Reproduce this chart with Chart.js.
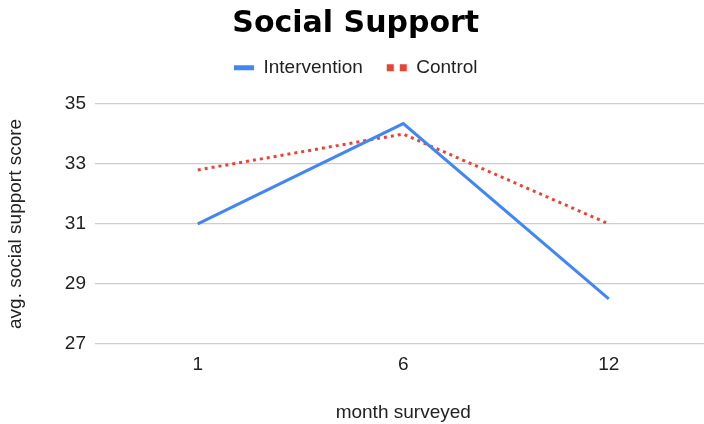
<!DOCTYPE html>
<html>
<head>
<meta charset="utf-8">
<script src="https://cdn.jsdelivr.net/npm/chart.js@4.4.1/dist/chart.umd.min.js"></script>
<style>
  html, body { margin: 0; padding: 0; overflow: hidden; background: #fff; }
  #wrap { width: 714px; height: 424px; }
</style>
</head>
<body>
<div id="wrap"><canvas id="c" width="714" height="424"></canvas></div>
<script>
const categories = ['1', '6', '12'];
const interventionValues = [31.0, 34.35, 28.5];
const controlValues = [32.8, 34.0, 31.0];
const yTicks = [27, 29, 31, 33, 35];
const chartTitle = 'Social Support';
const xTitle = 'month surveyed';
const yTitle = 'avg. social support score';

const BLUE = '#4285F4';
const RED = '#EA4335';
const FONT = '"Liberation Sans", Arial, sans-serif';

new Chart(document.getElementById('c'), {
  type: 'line',
  data: {
    labels: categories,
    datasets: [
      {
        label: 'Intervention',
        data: interventionValues,
        borderColor: BLUE,
        backgroundColor: BLUE,
        borderWidth: 3,
        pointRadius: 0,
        tension: 0,
        fill: false
      },
      {
        label: 'Control',
        data: controlValues,
        borderColor: RED,
        backgroundColor: RED,
        borderWidth: 3,
        borderDash: [3, 4],
        borderCapStyle: 'butt',
        pointRadius: 0,
        tension: 0,
        fill: false
      }
    ]
  },
  options: {
    responsive: false,
    animation: false,
    devicePixelRatio: 1,
    layout: { padding: { left: 0, right: 2.5, top: 0, bottom: 0 } },
    plugins: {
      title: {
        display: true,
        text: chartTitle,
        color: '#000',
        font: { family: '"DejaVu Sans"', size: 30, weight: 'bold' },
        padding: { top: 6, bottom: -7.8 }
      },
      subtitle: {
        display: true,
        text: '',
        weight: 500,
        font: { size: 1, lineHeight: 1 },
        padding: { top: 0, bottom: 15.9 }
      },
      legend: {
        display: true,
        position: 'top',
        labels: {
          color: '#222',
          font: { family: FONT, size: 19 },
          padding: 24,
          usePointStyle: true,
          pointStyleWidth: 20,
          boxWidth: 20,
          generateLabels(chart) {
            return chart.data.datasets.map((ds, i) => ({
              text: ds.label,
              fillStyle: ds.borderColor,
              strokeStyle: ds.borderColor,
              lineWidth: i === 0 ? 5 : 7,
              lineDash: i === 0 ? [] : [7, 6],
              lineCap: 'butt',
              pointStyle: 'line',
              hidden: false,
              datasetIndex: i,
              fontColor: '#222'
            }));
          }
        }
      },
      tooltip: { enabled: false }
    },
    scales: {
      x: {
        offset: true,
        grid: { display: false, drawTicks: false },
        border: { display: false },
        ticks: {
          color: '#222',
          padding: 10,
          font: { family: FONT, size: 19 }
        },
        title: {
          display: true,
          text: xTitle,
          color: '#222',
          padding: { top: 0, bottom: 0 },
          font: { family: FONT, size: 19 }
        },
        afterFit(scale) { scale.height = 80.3; }
      },
      y: {
        min: 27,
        max: 35,
        afterBuildTicks(scale) { scale.ticks = yTicks.map(v => ({ value: v })); },
        grid: { color: '#cccccc', lineWidth: 1.3, drawTicks: false },
        border: { display: false },
        ticks: {
          color: '#222',
          padding: 9,
          font: { family: FONT, size: 19 }
        },
        title: {
          display: true,
          text: yTitle,
          color: '#222',
          padding: { top: 4, bottom: 0 },
          font: { family: FONT, size: 19 }
        },
        afterFit(scale) { scale.width = 95; }
      }
    }
  }
});
</script>
</body>
</html>
